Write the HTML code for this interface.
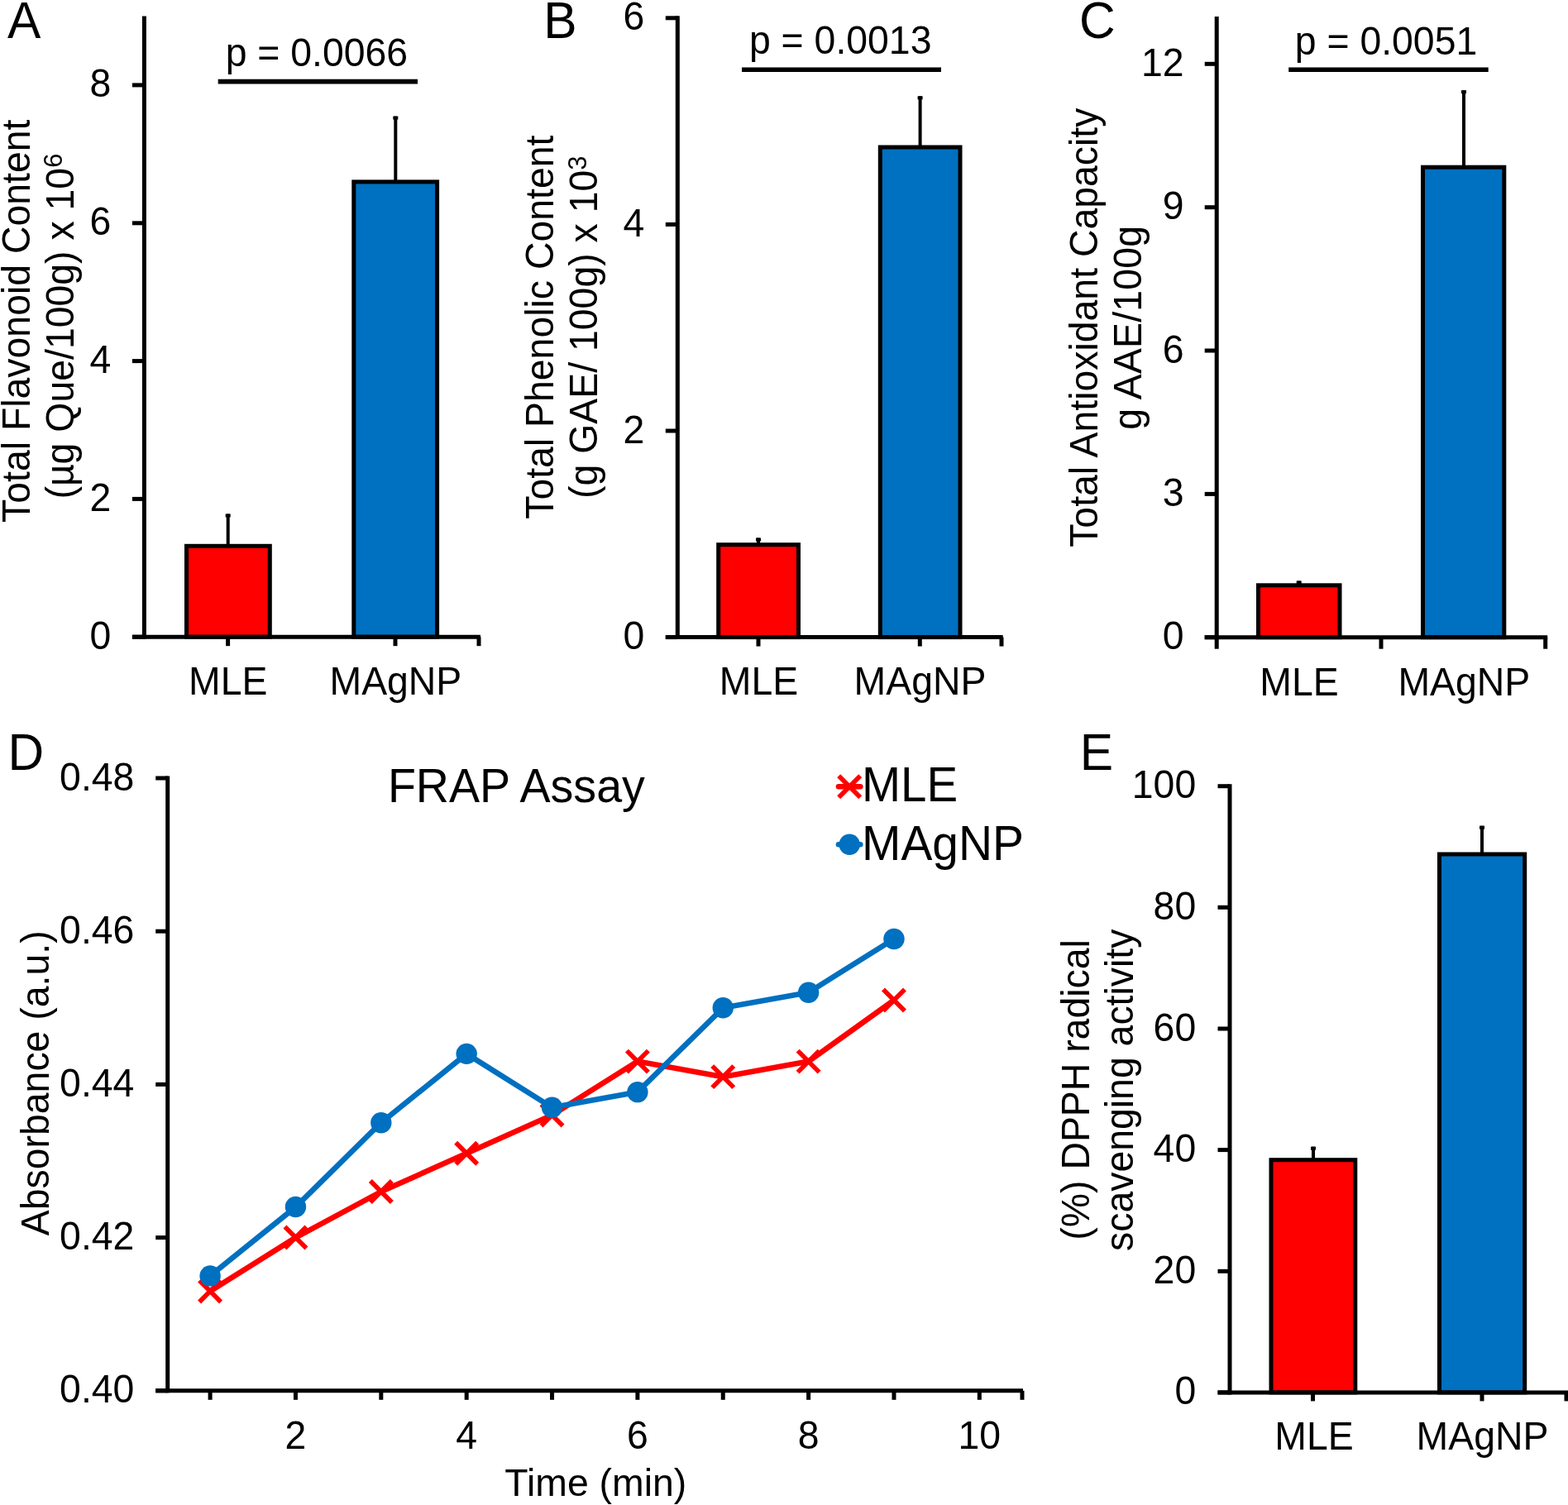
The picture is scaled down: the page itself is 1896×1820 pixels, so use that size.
<!DOCTYPE html>
<html lang="en">
<head>
<meta charset="utf-8">
<title>Figure: antioxidant assays of MLE and MAgNP</title>
<style>
html,body{margin:0;padding:0;background:#fff;}
body{width:1896px;height:1820px;overflow:hidden;}
svg{display:block;}
svg text{font-family:"Liberation Sans", sans-serif;fill:#000;}
</style>
</head>
<body>
<svg width="1896" height="1820" viewBox="0 0 1896 1820">
<rect x="0" y="0" width="1896" height="1820" fill="#fff"/>
<g id="panel-a">
<line x1="275.70" y1="621.50" x2="275.70" y2="659.80" stroke="#000" stroke-width="4" stroke-linecap="butt"/>
<rect x="272.70" y="621.50" width="6" height="4" fill="#000"/>
<rect x="225.50" y="660.30" width="100.80" height="109.90" fill="#ff0000" stroke="#000" stroke-width="5"/>
<line x1="478.30" y1="140.60" x2="478.30" y2="219.40" stroke="#000" stroke-width="4" stroke-linecap="butt"/>
<rect x="475.30" y="140.60" width="6" height="4" fill="#000"/>
<rect x="427.80" y="219.90" width="100.80" height="550.30" fill="#0070c0" stroke="#000" stroke-width="5"/>
<line x1="174.40" y1="19.40" x2="174.40" y2="772.70" stroke="#000" stroke-width="5" stroke-linecap="butt"/>
<line x1="159.90" y1="770.20" x2="581.00" y2="770.20" stroke="#000" stroke-width="5" stroke-linecap="butt"/>
<line x1="159.90" y1="770.20" x2="174.40" y2="770.20" stroke="#000" stroke-width="5" stroke-linecap="butt"/>
<text transform="translate(134.40 784.70) scale(1 1.035)" font-size="46.4" text-anchor="end">0</text>
<line x1="159.90" y1="603.40" x2="174.40" y2="603.40" stroke="#000" stroke-width="5" stroke-linecap="butt"/>
<text transform="translate(134.40 617.90) scale(1 1.035)" font-size="46.4" text-anchor="end">2</text>
<line x1="159.90" y1="436.60" x2="174.40" y2="436.60" stroke="#000" stroke-width="5" stroke-linecap="butt"/>
<text transform="translate(134.40 451.10) scale(1 1.035)" font-size="46.4" text-anchor="end">4</text>
<line x1="159.90" y1="269.80" x2="174.40" y2="269.80" stroke="#000" stroke-width="5" stroke-linecap="butt"/>
<text transform="translate(134.40 284.30) scale(1 1.035)" font-size="46.4" text-anchor="end">6</text>
<line x1="159.90" y1="102.90" x2="174.40" y2="102.90" stroke="#000" stroke-width="5" stroke-linecap="butt"/>
<text transform="translate(134.40 117.40) scale(1 1.035)" font-size="46.4" text-anchor="end">8</text>
<line x1="275.60" y1="770.20" x2="275.60" y2="781.20" stroke="#000" stroke-width="5" stroke-linecap="butt"/>
<line x1="478.00" y1="770.20" x2="478.00" y2="781.20" stroke="#000" stroke-width="5" stroke-linecap="butt"/>
<line x1="579.00" y1="770.20" x2="579.00" y2="781.20" stroke="#000" stroke-width="5" stroke-linecap="butt"/>
<text transform="translate(275.70 839.80) scale(1 1.035)" font-size="46.4" text-anchor="middle">MLE</text>
<text transform="translate(478.40 839.80) scale(1 1.035)" font-size="46.4" text-anchor="middle">MAgNP</text>
<line x1="263.70" y1="98.65" x2="505.00" y2="98.65" stroke="#000" stroke-width="5.6" stroke-linecap="butt"/>
<text transform="translate(382.90 80.00) scale(1 1.035)" font-size="46.4" text-anchor="middle">p = 0.0066</text>
<text transform="translate(9.00 45.70) scale(1 1.035)" font-size="60.5" text-anchor="start">A</text>
<text transform="translate(35.60 388.30) rotate(-90) scale(1 1.02)" font-size="46.4" text-anchor="middle">Total Flavonoid Content</text>
<text transform="translate(88.60 394.60) rotate(-90) scale(1 1.02)" font-size="46.4" text-anchor="middle">(µg Que/100g) x 10<tspan font-size="31" dy="-13">6</tspan></text>
</g>
<g id="panel-b">
<line x1="917.00" y1="650.50" x2="917.00" y2="658.20" stroke="#000" stroke-width="4" stroke-linecap="butt"/>
<rect x="914.00" y="650.50" width="6" height="4" fill="#000"/>
<rect x="868.70" y="658.70" width="96.80" height="111.90" fill="#ff0000" stroke="#000" stroke-width="5"/>
<line x1="1112.60" y1="116.30" x2="1112.60" y2="177.50" stroke="#000" stroke-width="4" stroke-linecap="butt"/>
<rect x="1109.60" y="116.30" width="6" height="4" fill="#000"/>
<rect x="1064.30" y="178.00" width="96.70" height="592.60" fill="#0070c0" stroke="#000" stroke-width="5"/>
<line x1="819.30" y1="19.30" x2="819.30" y2="773.10" stroke="#000" stroke-width="5" stroke-linecap="butt"/>
<line x1="804.80" y1="770.60" x2="1212.70" y2="770.60" stroke="#000" stroke-width="5" stroke-linecap="butt"/>
<line x1="804.80" y1="770.60" x2="819.30" y2="770.60" stroke="#000" stroke-width="5" stroke-linecap="butt"/>
<text transform="translate(779.40 785.10) scale(1 1.035)" font-size="46.4" text-anchor="end">0</text>
<line x1="804.80" y1="521.00" x2="819.30" y2="521.00" stroke="#000" stroke-width="5" stroke-linecap="butt"/>
<text transform="translate(779.40 535.50) scale(1 1.035)" font-size="46.4" text-anchor="end">2</text>
<line x1="804.80" y1="271.40" x2="819.30" y2="271.40" stroke="#000" stroke-width="5" stroke-linecap="butt"/>
<text transform="translate(779.40 285.90) scale(1 1.035)" font-size="46.4" text-anchor="end">4</text>
<line x1="804.80" y1="21.80" x2="819.30" y2="21.80" stroke="#000" stroke-width="5" stroke-linecap="butt"/>
<text transform="translate(779.40 36.30) scale(1 1.035)" font-size="46.4" text-anchor="end">6</text>
<line x1="917.00" y1="770.60" x2="917.00" y2="781.60" stroke="#000" stroke-width="5" stroke-linecap="butt"/>
<line x1="1112.30" y1="770.60" x2="1112.30" y2="781.60" stroke="#000" stroke-width="5" stroke-linecap="butt"/>
<line x1="1211.00" y1="770.60" x2="1211.00" y2="781.60" stroke="#000" stroke-width="5" stroke-linecap="butt"/>
<text transform="translate(917.50 840.20) scale(1 1.035)" font-size="46.4" text-anchor="middle">MLE</text>
<text transform="translate(1112.50 840.20) scale(1 1.035)" font-size="46.4" text-anchor="middle">MAgNP</text>
<line x1="897.00" y1="84.30" x2="1138.00" y2="84.30" stroke="#000" stroke-width="5.6" stroke-linecap="butt"/>
<text transform="translate(1016.20 65.30) scale(1 1.035)" font-size="46.4" text-anchor="middle">p = 0.0013</text>
<text transform="translate(657.30 45.50) scale(1 1.035)" font-size="60.5" text-anchor="start">B</text>
<text transform="translate(669.00 395.70) rotate(-90) scale(1 1.02)" font-size="46.4" text-anchor="middle">Total Phenolic Content</text>
<text transform="translate(722.30 395.70) rotate(-90) scale(1 1.02)" font-size="46.4" text-anchor="middle">(g GAE/ 100g) x 10<tspan font-size="31" dy="-13">3</tspan></text>
</g>
<g id="panel-c">
<line x1="1570.70" y1="702.50" x2="1570.70" y2="707.30" stroke="#000" stroke-width="4" stroke-linecap="butt"/>
<rect x="1567.70" y="702.50" width="6" height="4" fill="#000"/>
<rect x="1521.50" y="707.80" width="98.50" height="62.90" fill="#ff0000" stroke="#000" stroke-width="5"/>
<line x1="1770.00" y1="109.20" x2="1770.00" y2="201.70" stroke="#000" stroke-width="4" stroke-linecap="butt"/>
<rect x="1767.00" y="109.20" width="6" height="4" fill="#000"/>
<rect x="1720.50" y="202.20" width="98.30" height="568.50" fill="#0070c0" stroke="#000" stroke-width="5"/>
<line x1="1471.20" y1="20.00" x2="1471.20" y2="773.20" stroke="#000" stroke-width="5" stroke-linecap="butt"/>
<line x1="1456.70" y1="770.70" x2="1871.20" y2="770.70" stroke="#000" stroke-width="5" stroke-linecap="butt"/>
<line x1="1456.70" y1="770.70" x2="1471.20" y2="770.70" stroke="#000" stroke-width="5" stroke-linecap="butt"/>
<text transform="translate(1431.60 785.20) scale(1 1.035)" font-size="46.4" text-anchor="end">0</text>
<line x1="1456.70" y1="597.40" x2="1471.20" y2="597.40" stroke="#000" stroke-width="5" stroke-linecap="butt"/>
<text transform="translate(1431.60 611.90) scale(1 1.035)" font-size="46.4" text-anchor="end">3</text>
<line x1="1456.70" y1="424.00" x2="1471.20" y2="424.00" stroke="#000" stroke-width="5" stroke-linecap="butt"/>
<text transform="translate(1431.60 438.50) scale(1 1.035)" font-size="46.4" text-anchor="end">6</text>
<line x1="1456.70" y1="250.70" x2="1471.20" y2="250.70" stroke="#000" stroke-width="5" stroke-linecap="butt"/>
<text transform="translate(1431.60 265.20) scale(1 1.035)" font-size="46.4" text-anchor="end">9</text>
<line x1="1456.70" y1="77.30" x2="1471.20" y2="77.30" stroke="#000" stroke-width="5" stroke-linecap="butt"/>
<text transform="translate(1431.60 91.80) scale(1 1.035)" font-size="46.4" text-anchor="end">12</text>
<line x1="1471.20" y1="770.70" x2="1471.20" y2="784.70" stroke="#000" stroke-width="5" stroke-linecap="butt"/>
<line x1="1670.00" y1="770.70" x2="1670.00" y2="784.70" stroke="#000" stroke-width="5" stroke-linecap="butt"/>
<line x1="1868.70" y1="770.70" x2="1868.70" y2="784.70" stroke="#000" stroke-width="5" stroke-linecap="butt"/>
<text transform="translate(1571.00 840.50) scale(1 1.035)" font-size="46.4" text-anchor="middle">MLE</text>
<text transform="translate(1770.30 840.50) scale(1 1.035)" font-size="46.4" text-anchor="middle">MAgNP</text>
<line x1="1558.20" y1="84.30" x2="1799.70" y2="84.30" stroke="#000" stroke-width="5.6" stroke-linecap="butt"/>
<text transform="translate(1676.00 65.50) scale(1 1.035)" font-size="46.4" text-anchor="middle">p = 0.0051</text>
<text transform="translate(1305.00 45.50) scale(1 1.035)" font-size="60.5" text-anchor="start">C</text>
<text transform="translate(1326.70 396.20) rotate(-90) scale(1 1.02)" font-size="46.4" text-anchor="middle">Total Antioxidant Capacity</text>
<text transform="translate(1379.70 396.30) rotate(-90) scale(1 1.02)" font-size="46.4" text-anchor="middle"><tspan letter-spacing="0.18">g AAE/100g</tspan></text>
</g>
<g id="panel-e">
<line x1="1588.00" y1="1386.70" x2="1588.00" y2="1402.20" stroke="#000" stroke-width="4" stroke-linecap="butt"/>
<rect x="1585.00" y="1386.70" width="6" height="4" fill="#000"/>
<rect x="1537.00" y="1402.70" width="101.80" height="281.20" fill="#ff0000" stroke="#000" stroke-width="5"/>
<line x1="1792.00" y1="998.70" x2="1792.00" y2="1032.50" stroke="#000" stroke-width="4" stroke-linecap="butt"/>
<rect x="1789.00" y="998.70" width="6" height="4" fill="#000"/>
<rect x="1740.50" y="1033.00" width="103.20" height="650.90" fill="#0070c0" stroke="#000" stroke-width="5"/>
<line x1="1487.00" y1="948.20" x2="1487.00" y2="1686.40" stroke="#000" stroke-width="5" stroke-linecap="butt"/>
<line x1="1472.50" y1="1683.90" x2="1896.00" y2="1683.90" stroke="#000" stroke-width="5" stroke-linecap="butt"/>
<line x1="1472.50" y1="1683.90" x2="1487.00" y2="1683.90" stroke="#000" stroke-width="5" stroke-linecap="butt"/>
<text transform="translate(1446.20 1698.40) scale(1 1.035)" font-size="46.4" text-anchor="end">0</text>
<line x1="1472.50" y1="1537.30" x2="1487.00" y2="1537.30" stroke="#000" stroke-width="5" stroke-linecap="butt"/>
<text transform="translate(1446.20 1551.80) scale(1 1.035)" font-size="46.4" text-anchor="end">20</text>
<line x1="1472.50" y1="1390.60" x2="1487.00" y2="1390.60" stroke="#000" stroke-width="5" stroke-linecap="butt"/>
<text transform="translate(1446.20 1405.10) scale(1 1.035)" font-size="46.4" text-anchor="end">40</text>
<line x1="1472.50" y1="1244.00" x2="1487.00" y2="1244.00" stroke="#000" stroke-width="5" stroke-linecap="butt"/>
<text transform="translate(1446.20 1258.50) scale(1 1.035)" font-size="46.4" text-anchor="end">60</text>
<line x1="1472.50" y1="1097.30" x2="1487.00" y2="1097.30" stroke="#000" stroke-width="5" stroke-linecap="butt"/>
<text transform="translate(1446.20 1111.80) scale(1 1.035)" font-size="46.4" text-anchor="end">80</text>
<line x1="1472.50" y1="950.70" x2="1487.00" y2="950.70" stroke="#000" stroke-width="5" stroke-linecap="butt"/>
<text transform="translate(1446.20 965.20) scale(1 1.035)" font-size="46.4" text-anchor="end">100</text>
<line x1="1587.50" y1="1683.90" x2="1587.50" y2="1694.40" stroke="#000" stroke-width="5" stroke-linecap="butt"/>
<line x1="1792.00" y1="1683.90" x2="1792.00" y2="1694.40" stroke="#000" stroke-width="5" stroke-linecap="butt"/>
<line x1="1894.00" y1="1683.90" x2="1894.00" y2="1694.40" stroke="#000" stroke-width="5" stroke-linecap="butt"/>
<text transform="translate(1589.00 1753.20) scale(1 1.035)" font-size="46.4" text-anchor="middle">MLE</text>
<text transform="translate(1792.50 1753.20) scale(1 1.035)" font-size="46.4" text-anchor="middle">MAgNP</text>
<text transform="translate(1305.70 930.70) scale(1 1.035)" font-size="60.5" text-anchor="start">E</text>
<text transform="translate(1316.70 1317.90) rotate(-90) scale(1 1.02)" font-size="46.4" text-anchor="middle">(%) DPPH radical</text>
<text transform="translate(1369.50 1318.30) rotate(-90) scale(1 1.02)" font-size="46.4" text-anchor="middle">scavenging activity</text>
</g>
<g id="panel-d">
<polyline points="254.10,1561.42 357.46,1496.60 460.82,1441.04 564.18,1394.74 667.54,1348.44 770.90,1283.62 874.26,1302.14 977.62,1283.62 1080.98,1209.54" fill="none" stroke="#ff0000" stroke-width="6.6" stroke-linejoin="round" stroke-linecap="round"/>
<line x1="241.10" y1="1548.42" x2="267.10" y2="1574.42" stroke="#ff0000" stroke-width="5.6" stroke-linecap="butt"/>
<line x1="241.10" y1="1574.42" x2="267.10" y2="1548.42" stroke="#ff0000" stroke-width="5.6" stroke-linecap="butt"/>
<line x1="344.46" y1="1483.60" x2="370.46" y2="1509.60" stroke="#ff0000" stroke-width="5.6" stroke-linecap="butt"/>
<line x1="344.46" y1="1509.60" x2="370.46" y2="1483.60" stroke="#ff0000" stroke-width="5.6" stroke-linecap="butt"/>
<line x1="447.82" y1="1428.04" x2="473.82" y2="1454.04" stroke="#ff0000" stroke-width="5.6" stroke-linecap="butt"/>
<line x1="447.82" y1="1454.04" x2="473.82" y2="1428.04" stroke="#ff0000" stroke-width="5.6" stroke-linecap="butt"/>
<line x1="551.18" y1="1381.74" x2="577.18" y2="1407.74" stroke="#ff0000" stroke-width="5.6" stroke-linecap="butt"/>
<line x1="551.18" y1="1407.74" x2="577.18" y2="1381.74" stroke="#ff0000" stroke-width="5.6" stroke-linecap="butt"/>
<line x1="654.54" y1="1335.44" x2="680.54" y2="1361.44" stroke="#ff0000" stroke-width="5.6" stroke-linecap="butt"/>
<line x1="654.54" y1="1361.44" x2="680.54" y2="1335.44" stroke="#ff0000" stroke-width="5.6" stroke-linecap="butt"/>
<line x1="757.90" y1="1270.62" x2="783.90" y2="1296.62" stroke="#ff0000" stroke-width="5.6" stroke-linecap="butt"/>
<line x1="757.90" y1="1296.62" x2="783.90" y2="1270.62" stroke="#ff0000" stroke-width="5.6" stroke-linecap="butt"/>
<line x1="861.26" y1="1289.14" x2="887.26" y2="1315.14" stroke="#ff0000" stroke-width="5.6" stroke-linecap="butt"/>
<line x1="861.26" y1="1315.14" x2="887.26" y2="1289.14" stroke="#ff0000" stroke-width="5.6" stroke-linecap="butt"/>
<line x1="964.62" y1="1270.62" x2="990.62" y2="1296.62" stroke="#ff0000" stroke-width="5.6" stroke-linecap="butt"/>
<line x1="964.62" y1="1296.62" x2="990.62" y2="1270.62" stroke="#ff0000" stroke-width="5.6" stroke-linecap="butt"/>
<line x1="1067.98" y1="1196.54" x2="1093.98" y2="1222.54" stroke="#ff0000" stroke-width="5.6" stroke-linecap="butt"/>
<line x1="1067.98" y1="1222.54" x2="1093.98" y2="1196.54" stroke="#ff0000" stroke-width="5.6" stroke-linecap="butt"/>
<polyline points="254.10,1542.90 357.46,1459.56 460.82,1357.70 564.18,1274.36 667.54,1339.18 770.90,1320.66 874.26,1218.80 977.62,1200.28 1080.98,1135.46" fill="none" stroke="#0070c0" stroke-width="6.6" stroke-linejoin="round" stroke-linecap="round"/>
<circle cx="254.10" cy="1542.90" r="12.7" fill="#0070c0"/>
<circle cx="357.46" cy="1459.56" r="12.7" fill="#0070c0"/>
<circle cx="460.82" cy="1357.70" r="12.7" fill="#0070c0"/>
<circle cx="564.18" cy="1274.36" r="12.7" fill="#0070c0"/>
<circle cx="667.54" cy="1339.18" r="12.7" fill="#0070c0"/>
<circle cx="770.90" cy="1320.66" r="12.7" fill="#0070c0"/>
<circle cx="874.26" cy="1218.80" r="12.7" fill="#0070c0"/>
<circle cx="977.62" cy="1200.28" r="12.7" fill="#0070c0"/>
<circle cx="1080.98" cy="1135.46" r="12.7" fill="#0070c0"/>
<line x1="202.70" y1="938.50" x2="202.70" y2="1684.30" stroke="#000" stroke-width="5" stroke-linecap="butt"/>
<line x1="188.20" y1="1681.80" x2="1237.00" y2="1681.80" stroke="#000" stroke-width="5" stroke-linecap="butt"/>
<line x1="188.20" y1="1681.80" x2="202.70" y2="1681.80" stroke="#000" stroke-width="5" stroke-linecap="butt"/>
<text transform="translate(162.40 1696.30) scale(1 1.035)" font-size="46.4" text-anchor="end">0.40</text>
<line x1="188.20" y1="1496.60" x2="202.70" y2="1496.60" stroke="#000" stroke-width="5" stroke-linecap="butt"/>
<text transform="translate(162.40 1511.10) scale(1 1.035)" font-size="46.4" text-anchor="end">0.42</text>
<line x1="188.20" y1="1311.40" x2="202.70" y2="1311.40" stroke="#000" stroke-width="5" stroke-linecap="butt"/>
<text transform="translate(162.40 1325.90) scale(1 1.035)" font-size="46.4" text-anchor="end">0.44</text>
<line x1="188.20" y1="1126.20" x2="202.70" y2="1126.20" stroke="#000" stroke-width="5" stroke-linecap="butt"/>
<text transform="translate(162.40 1140.70) scale(1 1.035)" font-size="46.4" text-anchor="end">0.46</text>
<line x1="188.20" y1="941.00" x2="202.70" y2="941.00" stroke="#000" stroke-width="5" stroke-linecap="butt"/>
<text transform="translate(162.40 955.50) scale(1 1.035)" font-size="46.4" text-anchor="end">0.48</text>
<line x1="254.10" y1="1681.80" x2="254.10" y2="1692.80" stroke="#000" stroke-width="5" stroke-linecap="butt"/>
<line x1="357.46" y1="1681.80" x2="357.46" y2="1692.80" stroke="#000" stroke-width="5" stroke-linecap="butt"/>
<text transform="translate(357.46 1752.30) scale(1 1.035)" font-size="46.4" text-anchor="middle">2</text>
<line x1="460.82" y1="1681.80" x2="460.82" y2="1692.80" stroke="#000" stroke-width="5" stroke-linecap="butt"/>
<line x1="564.18" y1="1681.80" x2="564.18" y2="1692.80" stroke="#000" stroke-width="5" stroke-linecap="butt"/>
<text transform="translate(564.18 1752.30) scale(1 1.035)" font-size="46.4" text-anchor="middle">4</text>
<line x1="667.54" y1="1681.80" x2="667.54" y2="1692.80" stroke="#000" stroke-width="5" stroke-linecap="butt"/>
<line x1="770.90" y1="1681.80" x2="770.90" y2="1692.80" stroke="#000" stroke-width="5" stroke-linecap="butt"/>
<text transform="translate(770.90 1752.30) scale(1 1.035)" font-size="46.4" text-anchor="middle">6</text>
<line x1="874.26" y1="1681.80" x2="874.26" y2="1692.80" stroke="#000" stroke-width="5" stroke-linecap="butt"/>
<line x1="977.62" y1="1681.80" x2="977.62" y2="1692.80" stroke="#000" stroke-width="5" stroke-linecap="butt"/>
<text transform="translate(977.62 1752.30) scale(1 1.035)" font-size="46.4" text-anchor="middle">8</text>
<line x1="1080.98" y1="1681.80" x2="1080.98" y2="1692.80" stroke="#000" stroke-width="5" stroke-linecap="butt"/>
<line x1="1184.34" y1="1681.80" x2="1184.34" y2="1692.80" stroke="#000" stroke-width="5" stroke-linecap="butt"/>
<text transform="translate(1184.34 1752.30) scale(1 1.035)" font-size="46.4" text-anchor="middle">10</text>
<line x1="1236.00" y1="1681.80" x2="1236.00" y2="1692.80" stroke="#000" stroke-width="5" stroke-linecap="butt"/>
<text transform="translate(720.30 1809.20) scale(1 1.01)" font-size="46.4" text-anchor="middle">Time (min)</text>
<text transform="translate(59.20 1309.80) rotate(-90) scale(1 1.02)" font-size="46.4" text-anchor="middle">Absorbance (a.u.)</text>
<text transform="translate(468.90 969.70) scale(1 1.02)" font-size="55.6" text-anchor="start">FRAP Assay</text>
<text transform="translate(9.50 931.00) scale(1 1.035)" font-size="60.5" text-anchor="start">D</text>
<line x1="1014.00" y1="951.20" x2="1040.30" y2="951.20" stroke="#ff0000" stroke-width="6.6" stroke-linecap="round"/>
<line x1="1014.20" y1="938.20" x2="1040.20" y2="964.20" stroke="#ff0000" stroke-width="5.6" stroke-linecap="butt"/>
<line x1="1014.20" y1="964.20" x2="1040.20" y2="938.20" stroke="#ff0000" stroke-width="5.6" stroke-linecap="butt"/>
<text transform="translate(1042.00 969.00) scale(1 1.035)" font-size="56.5" text-anchor="start">MLE</text>
<line x1="1014.00" y1="1021.30" x2="1040.30" y2="1021.30" stroke="#0070c0" stroke-width="6.6" stroke-linecap="round"/>
<circle cx="1027.2" cy="1021.3" r="12.7" fill="#0070c0"/>
<text transform="translate(1042.00 1039.50) scale(1 1.035)" font-size="56.9" text-anchor="start">MAgNP</text>
</g>
</svg>
</body>
</html>
